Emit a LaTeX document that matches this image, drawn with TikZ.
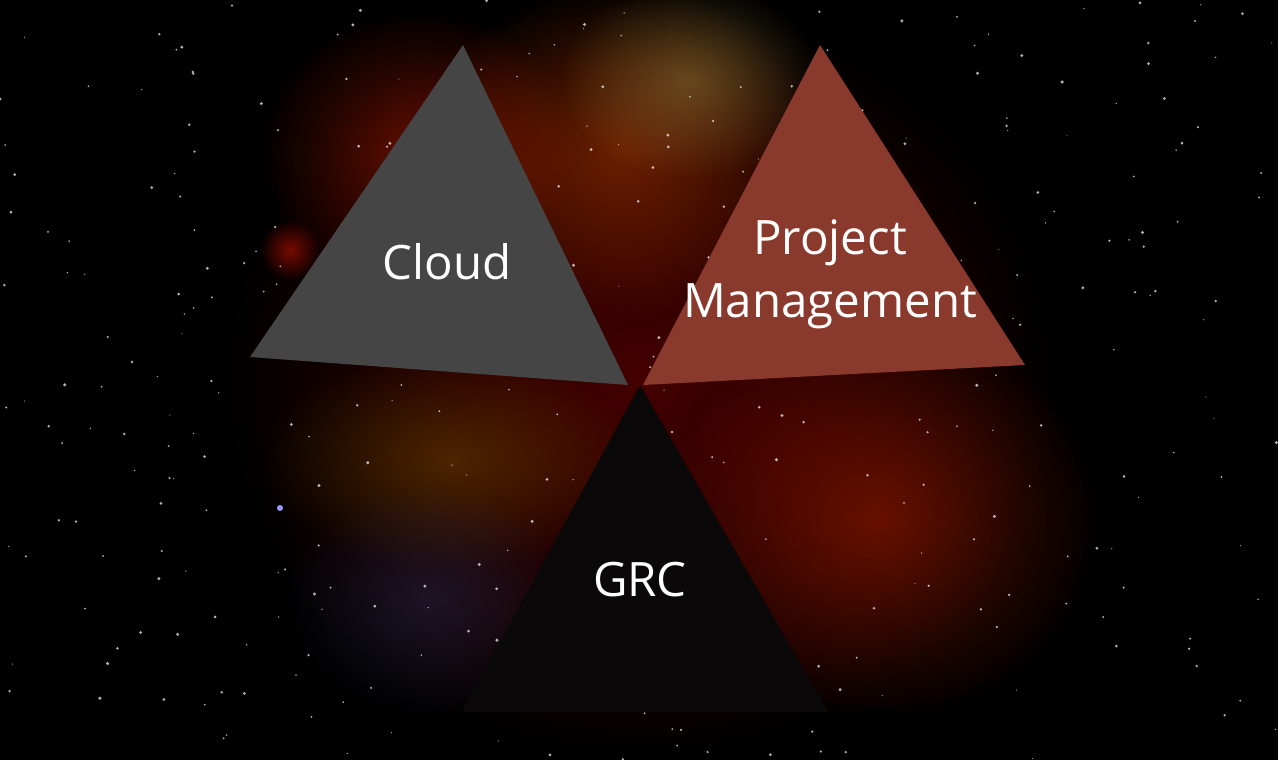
\documentclass[tikz,border=0pt]{standalone}
\usepackage{fontspec}
\setmainfont{Open Sans}
\usetikzlibrary{fadings}
\tikzfading[name=fuzzy, inner color=transparent!55, outer color=transparent!100]
\definecolor{tgray}{HTML}{454545}
\definecolor{tred}{HTML}{8A3A2D}
\definecolor{tblack}{HTML}{0A0808}
\tikzset{
  blob/.style={path fading=fuzzy},
  lbl/.style={text=white, font=\fontsize{27}{36}\selectfont, align=center}
}
\begin{document}
\begin{tikzpicture}[x=0.02cm,y=-0.02cm]
\useasboundingbox (0,0) rectangle (1278,760);
\fill[black] (0,0) rectangle (1278,760);
% nebula
\fill[blob, red!60!black] (640,380) ellipse (420 and 380);
\fill[blob, orange!70!red!80!black] (620,150) ellipse (200 and 170);
\fill[blob, yellow!60!orange!60!black] (690,80) ellipse (130 and 100);
\fill[blob, red!70!orange!80!black] (420,150) ellipse (160 and 140);
\fill[blob, orange!70!yellow!50!black] (450,460) ellipse (190 and 110);
\fill[blob, red!65!orange!80!black] (880,520) ellipse (220 and 200);
\fill[blob, blue!30!gray!50!black] (430,600) ellipse (150 and 120);
\fill[blob, red!80!orange] (290,250) circle (30);
% stars
\pgfmathsetseed{7}
\foreach \i in {1,...,350}{
  \pgfmathsetmacro\sx{rnd*1278}
  \pgfmathsetmacro\sy{rnd*760}
  \pgfmathsetmacro\sr{0.5+rnd*1.2}
  \fill[white, opacity=0.7] (\sx,\sy) circle (\sr);
}
\fill[blue!40!white] (280,508) circle (3);
% triangles
\fill[tgray] (463,45) -- (250,357) -- (628,385) -- cycle;
\fill[tred] (820,45) -- (643,385) -- (1025,365) -- cycle;
\fill[tblack] (640,385) -- (462,712) -- (828,712) -- cycle;
\node[lbl] (cloud) at (447,262) {Cloud};
\node[lbl] (pm) at (830,274) {Project\\Management};
\node[lbl] (grc) at (640,580) {GRC};
\end{tikzpicture}
\end{document}
